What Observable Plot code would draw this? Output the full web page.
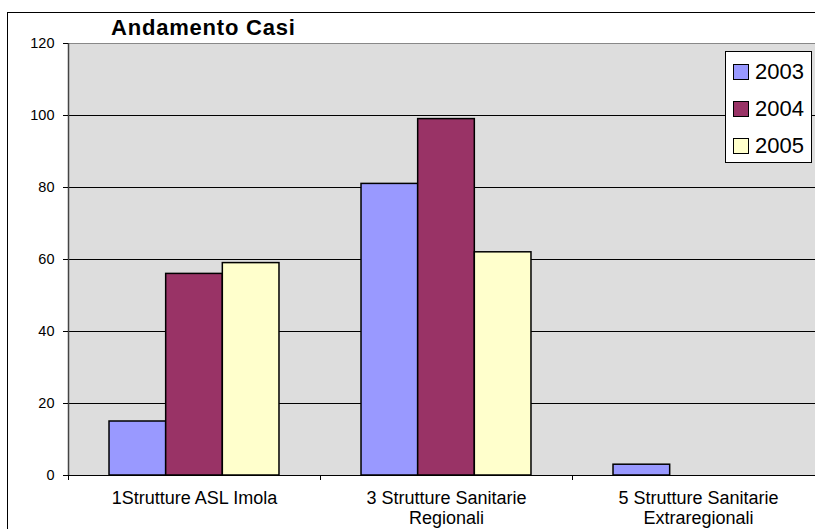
<!DOCTYPE html>
<html>
<head>
<meta charset="utf-8">
<script src="https://cdn.jsdelivr.net/npm/d3@7"></script>
<script src="https://cdn.jsdelivr.net/npm/@observablehq/plot@0.6"></script>
<style>
  html, body { margin: 0; padding: 0; background: #fff; overflow: hidden; }
  #wrap { position: relative; width: 815px; height: 529px; overflow: hidden; font-family: "Liberation Sans", Arial, sans-serif; }
  #border { position: absolute; left: 7px; top: 12px; width: 900px; height: 600px; border: 1px solid #000; box-sizing: border-box; }
  #chart { position: absolute; left: 0; top: 0; }
  #title { position: absolute; left: 111px; top: 15px; font-size: 22px; font-weight: bold; color: #000; letter-spacing: 0.8px; }
  #legend { position: absolute; left: 725px; top: 51px; width: 87px; height: 112px; box-sizing: border-box;
            border: 1px solid #000; background: #fff; }
  .row { position: absolute; left: 7px; height: 24px; display: flex; align-items: center; font-size: 22px; color: #000; }
  .sw { width: 14px; height: 14px; border: 1px solid #000; margin-right: 6px; }
</style>
</head>
<body>
<div id="wrap">
  <div id="border"></div>
  <div id="chart"></div>
  <div id="title">Andamento Casi</div>
  <div id="legend"></div>
</div>
<script>
// Case counts by destination group, one series per year
const categories = ["1Strutture ASL Imola", "3 Strutture Sanitarie\nRegionali", "5 Strutture Sanitarie\nExtraregionali"];
const years = ["2003", "2004", "2005"];
const cases2003 = [15, 81, 3];
const cases2004 = [56, 99, 0];
const cases2005 = [59, 62, 0];
const yTicks = [0, 20, 40, 60, 80, 100, 120];
const colors = ["#9999FF", "#993366", "#FFFFCC"];

const series = [cases2003, cases2004, cases2005];

// Layout
const width = 850, height = 529;
const marginLeft = 68, marginRight = 26, marginTop = 43, marginBottom = 54;
const step = (width - marginLeft - marginRight) / categories.length;

// Position of each year's bar inside a category band
const inner = d3.scaleBand().domain(years).range([0, step]).paddingInner(0).paddingOuter(0.724);

const barMarks = years.map((yr, i) => {
  const data = categories.map((c, j) => ({category: c, value: series[i][j]})).filter(d => d.value > 0);
  const left = inner(yr);
  return Plot.barY(data, {
    x: "category",
    y: "value",
    fill: colors[i],
    stroke: "#000",
    strokeWidth: 1.5,
    insetLeft: left,
    insetRight: step - left - inner.bandwidth()
  });
});

const chart = Plot.plot({
  width, height, marginLeft, marginRight, marginTop, marginBottom,
  style: {background: "transparent", maxWidth: "none", overflow: "visible", fontFamily: "Liberation Sans, Arial, sans-serif", color: "#000"},
  x: {domain: categories, padding: 0, axis: null, label: null},
  y: {domain: [0, 120], axis: null, label: null},
  marks: [
    Plot.frame({fill: "#DDDDDD", stroke: null}),
    Plot.ruleY(yTicks.filter(t => t > 0 && t < 120), {stroke: "#000", strokeWidth: 1}),
    Plot.ruleY([120], {stroke: "#888", strokeWidth: 1}),
    ...barMarks,
    Plot.ruleY([0], {stroke: "#000", strokeWidth: 1}),
    // left axis line
    Plot.ruleX([categories[0]], {y1: 0, y2: 120, dx: -step / 2, stroke: "#444", strokeWidth: 1.5}),
    // category boundary ticks
    Plot.ruleX(categories, {y1: 0, y2: 0, insetBottom: -5, dx: -step / 2, stroke: "#000"}),
    Plot.ruleX([categories[categories.length - 1]], {y1: 0, y2: 0, insetBottom: -5, dx: step / 2, stroke: "#000"}),
    Plot.axisY({ticks: yTicks, tickSize: 5, tickPadding: 9, fontSize: 14.5, label: null, tickFormat: d => String(d)}),
    Plot.axisX({tickSize: 0, tickPadding: 14, fontSize: 18, lineHeight: 1.12, label: null, tickFormat: d => d})
  ]
});
document.getElementById("chart").appendChild(chart);

// Legend box
const legend = document.getElementById("legend");
years.forEach((yr, i) => {
  const row = document.createElement("div");
  row.className = "row";
  row.style.top = (8 + i * 37) + "px";
  const sw = document.createElement("div");
  sw.className = "sw";
  sw.style.background = colors[i];
  row.appendChild(sw);
  row.appendChild(document.createTextNode(yr));
  legend.appendChild(row);
});
</script>
</body>
</html>
